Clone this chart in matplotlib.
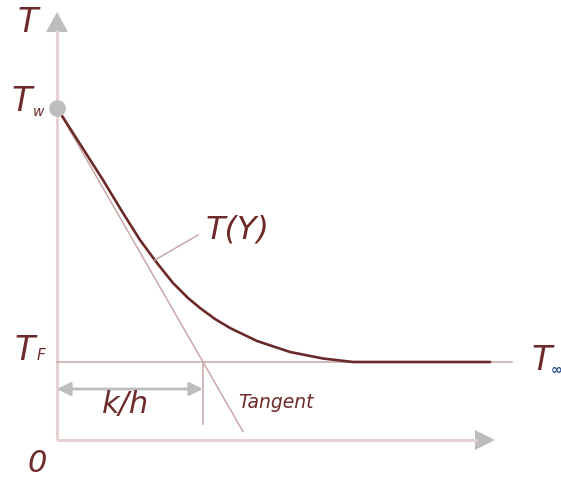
import matplotlib
matplotlib.use("Agg")
import matplotlib.pyplot as plt

# Wall temperature, fluid temperature and the conduction length k/h
T_w = 332
T_F = 78
k_over_h = 146

# Temperature profile T(Y) near the wall
profile_Y = [0, 46, 66, 83, 100, 116, 131, 143, 158, 173, 200, 233, 266, 296, 433]
profile_T = [332, 260, 227, 200, 177, 157, 142, 132, 121, 112, 99, 88, 81.5, 78, 78]

# Axis extents
Y_axis_end = 438
T_axis_end = 428
T_inf_line_end = 455

text_red = "#6e2b2b"
curve_red = "#6b2a2a"
thin = "#c9a8a8"
axis_col = "#e6d2d2"
grey = "#bdbdbd"
font = "DejaVu Sans"

fig = plt.figure(figsize=(5.61, 4.79), dpi=100)
ax = fig.add_axes([0, 0, 1, 1])
ax.set_xlim(-57, 504)
ax.set_ylim(-39, 440)
ax.axis("off")

# Axes with arrowheads
ax.plot([0, 0], [0, T_axis_end - 18], color=axis_col, lw=2.2, solid_capstyle="butt")
ax.plot([0, Y_axis_end - 18], [0, 0], color=axis_col, lw=2.2, solid_capstyle="butt")
ax.fill([-11, 11, 0], [T_axis_end - 20, T_axis_end - 20, T_axis_end], color=grey, lw=0)
ax.fill([Y_axis_end - 20, Y_axis_end - 20, Y_axis_end], [-10, 10, 0], color=grey, lw=0)

# Fluid temperature reference line
ax.plot([0, T_inf_line_end], [T_F, T_F], color=thin, lw=1.1)

# Tangent to the profile at the wall
slope = (T_F - T_w) / k_over_h
tan_end = 186
ax.plot([0, tan_end], [T_w, T_w + slope * tan_end], color=thin, lw=1.1)

# Marker for k/h
ax.plot([k_over_h, k_over_h], [16, T_F], color=thin, lw=1.1)
ax.annotate("", xy=(0, 51), xytext=(k_over_h, 51),
            arrowprops=dict(arrowstyle="<|-|>", color=grey, lw=2,
                            mutation_scale=20, shrinkA=0, shrinkB=0))

# Temperature profile
ax.plot(profile_Y, profile_T, color=curve_red, lw=1.9,
        solid_joinstyle="round", solid_capstyle="round")

# Wall point
ax.plot([0], [T_w], "o", color=grey, ms=11, zorder=5)

# Leader line to the T(Y) label
ax.plot([98, 141], [180, 205], color=thin, lw=1.1)

kw = dict(color=text_red, style="italic", family=font)
ax.text(-29, 418, "T", fontsize=24, ha="center", va="center", **kw)
ax.text(-35, 339, "T", fontsize=24, ha="center", va="center", **kw)
ax.text(-19, 328, "w", fontsize=10, ha="center", va="center", **kw)
ax.text(-32, 90, "T", fontsize=24, ha="center", va="center", **kw)
ax.text(-16, 84, "F", fontsize=11, ha="center", va="center", **kw)
ax.text(-20, -23, "0", fontsize=22, ha="center", va="center", **kw)
ax.text(69, 35, "k/h", fontsize=22, ha="center", va="center", **kw)
ax.text(219, 38, "Tangent", fontsize=13.5, ha="center", va="center", **kw)
ax.text(181, 210, "T(Y)", fontsize=23, ha="center", va="center", **kw)
ax.text(485, 79, "T", fontsize=24, ha="center", va="center", **kw)
ax.text(494, 70, "\u221e", fontsize=10, ha="left", va="center",
        color="#2a4a8a", family="DejaVu Sans", weight="bold")

fig.savefig("out.png", dpi=100)
